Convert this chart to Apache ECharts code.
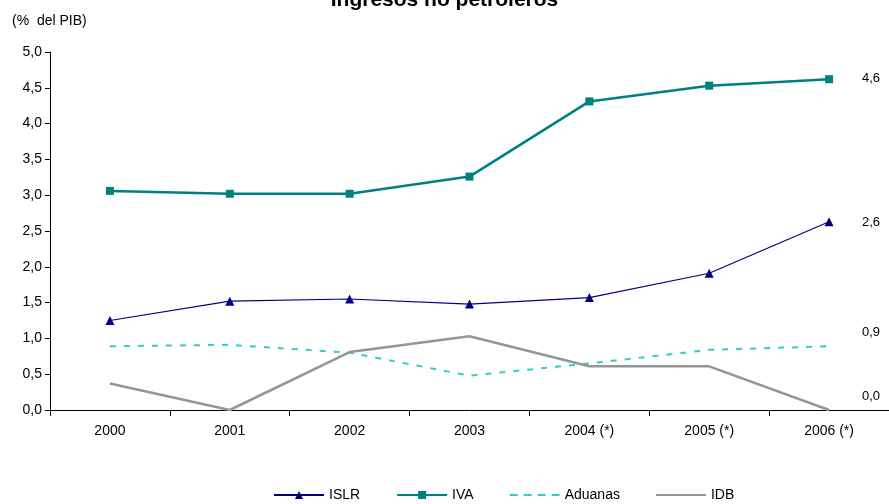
<!DOCTYPE html>
<html><head><meta charset="utf-8">
<script src="https://cdn.jsdelivr.net/npm/echarts@6/dist/echarts.min.js"></script>
<style>html,body{margin:0;padding:0;background:#fff}#c{width:889px;height:504px}</style>
</head><body><div id="c"></div>
<script>
const categories = ['2000','2001','2002','2003','2004 (*)','2005 (*)','2006 (*)'];
const islr = [1.25,1.52,1.55,1.48,1.57,1.91,2.63];
const iva = [3.06,3.02,3.02,3.26,4.31,4.53,4.62];
const aduanas = [0.89,0.91,0.80,0.48,0.65,0.84,0.89];
const idb = [0.37,0.0,0.81,1.03,0.61,0.61,0.0];
const endLabels = [['4,6',80],['2,6',224],['0,9',334],['0,0',398]];
const chart = echarts.init(document.getElementById('c'));
const F = 'Arial, Liberation Sans, sans-serif';
chart.setOption({
  animation:false,
  title:{text:'Ingresos no petroleros',left:'center',top:-15,textStyle:{fontFamily:F,fontWeight:'bold',fontSize:21,color:'#000'}},
  graphic:[{type:'text',left:12,top:14,style:{text:'(%  del PIB)',font:'14px '+F,fill:'#000'}}]
    .concat(endLabels.map(l=>({type:'text',left:862,top:l[1]-8,style:{text:l[0],font:'13px '+F,fill:'#000'}}))),
  grid:{left:50,right:-9,top:52,bottom:94},
  legend:{bottom:-3,left:268,itemGap:36,itemWidth:50,itemHeight:10,textStyle:{fontFamily:F,fontSize:14,color:'#000'},
    data:['ISLR','IVA',
      {name:'Aduanas',icon:'path://M0,4h8v2h-8zM14,4h8v2h-8zM28,4h8v2h-8zM42,4h8v2h-8z'},
      {name:'IDB',icon:'path://M0,4h50v2h-50z'}]},
  xAxis:{type:'category',data:categories,boundaryGap:true,
    axisLine:{lineStyle:{color:'#000'}},axisTick:{show:true,length:6,lineStyle:{color:'#000'}},
    axisLabel:{fontFamily:F,fontSize:14,color:'#000',margin:14}},
  yAxis:{type:'value',min:0,max:5,interval:0.5,
    axisLine:{show:true,lineStyle:{color:'#000'}},axisTick:{show:true,length:5,lineStyle:{color:'#000'}},
    splitLine:{show:false},
    axisLabel:{fontFamily:F,fontSize:14,color:'#000',formatter:v=>v.toFixed(1).replace('.',',')}},
  series:[
    {name:'ISLR',type:'line',data:islr,symbol:'triangle',symbolSize:9,color:'#000080',lineStyle:{width:1.2,color:'#000080'},itemStyle:{color:'#000080'}},
    {name:'IVA',type:'line',data:iva,symbol:'rect',symbolSize:8,color:'#008080',lineStyle:{width:2.5,color:'#008080'},itemStyle:{color:'#008080'}},
    {name:'Aduanas',type:'line',data:aduanas,symbol:'none',color:'#33cccc',lineStyle:{width:2,type:[6,8],color:'#33cccc'}},
    {name:'IDB',type:'line',data:idb,symbol:'none',color:'#969696',lineStyle:{width:2.5,color:'#969696'}}
  ]
});
</script></body></html>
